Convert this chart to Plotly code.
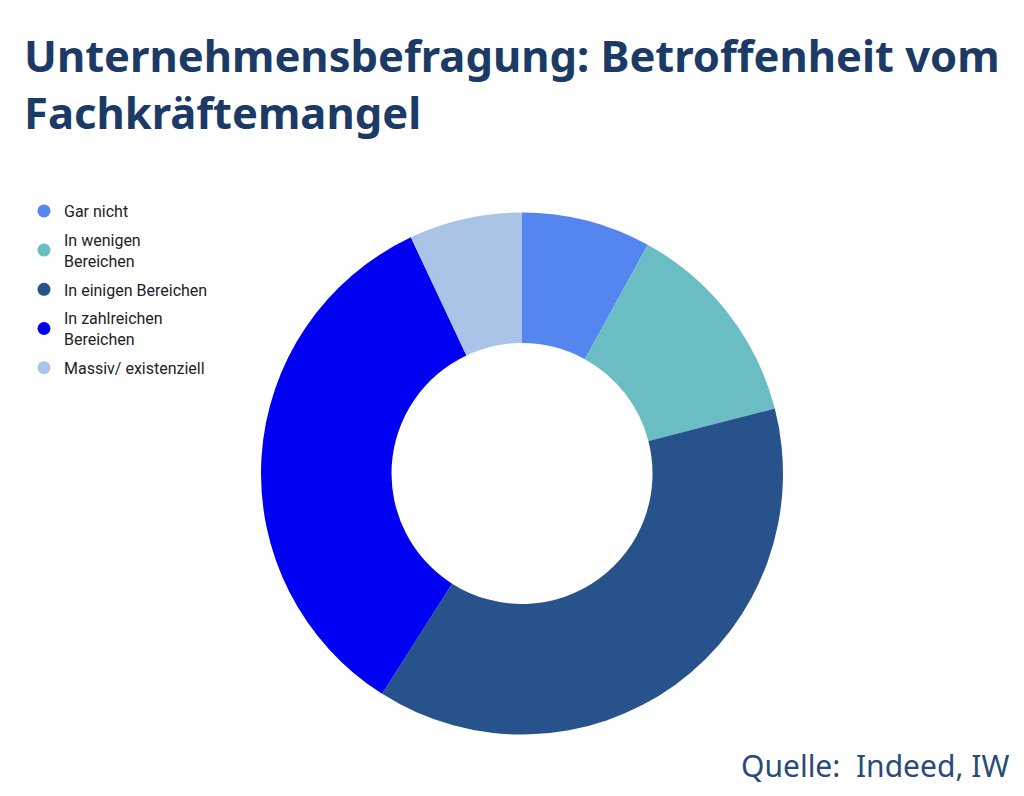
import plotly.graph_objects as go

labels = ["Gar nicht", "In wenigen<br>Bereichen", "In einigen Bereichen", "In zahlreichen<br>Bereichen", "Massiv/ existenziell"]
values = [8, 13, 38, 34, 7]
colors = ["#5585EE", "#6BBDC4", "#27528C", "#0000F2", "#A9C4E6"]

W, H = 1024, 796

fig = go.Figure()
fig.add_trace(go.Pie(
    labels=labels, values=values, hole=0.5, sort=False, direction="clockwise", rotation=0,
    marker=dict(colors=colors, line=dict(width=0)),
    textinfo="none", hoverinfo="label+percent", showlegend=False,
    domain=dict(x=[253/W, 775/W], y=[1-727/H, 1-204/H]),
))
# circle legend markers
for i, (lab, col) in enumerate(zip(labels, colors)):
    fig.add_trace(go.Scatter(
        x=[None], y=[None], mode="markers", name=lab, legendgroup=str(i),
        marker=dict(symbol="circle", size=13, color=col), showlegend=True,
    ))

fig.update_layout(
    width=W, height=H, margin=dict(l=0, r=0, t=0, b=0),
    paper_bgcolor="white", plot_bgcolor="white",
    showlegend=True,
    xaxis=dict(visible=False), yaxis=dict(visible=False),
    legend=dict(x=16/W, y=1-186/H, xanchor="left", yanchor="top",
                font=dict(family="Roboto", size=16, color="#222222"),
                tracegroupgap=5, itemwidth=30, bgcolor="rgba(0,0,0,0)"),
    annotations=[
        dict(text="<b>Unternehmensbefragung: Betroffenheit vom<br>Fachkräftemangel</b>",
             x=14/W, y=1-15/H, xref="paper", yref="paper", xanchor="left", yanchor="top",
             showarrow=False, align="left",
             font=dict(family="Noto Sans", size=43.5, color="#1B3A66")),
        dict(text="Quelle:  Indeed, IW",
             x=1003/W, y=1-780/H, xref="paper", yref="paper", xanchor="right", yanchor="bottom",
             showarrow=False, align="right",
             font=dict(family="Noto Sans", size=30, color="#2A4A7A")),
    ],
)

fig.write_html("out.html")
